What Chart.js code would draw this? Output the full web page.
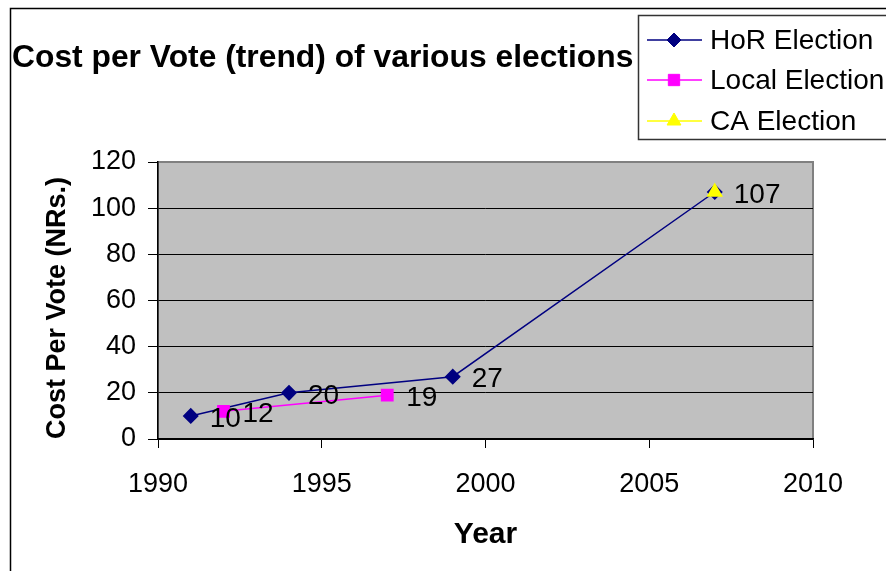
<!DOCTYPE html>
<html>
<head>
<meta charset="utf-8">
<script src="https://cdn.jsdelivr.net/npm/chart.js@4.4.1/dist/chart.umd.min.js"></script>
<style>
  html, body { margin: 0; padding: 0; background: #fff; }
  #wrap { width: 886px; height: 571px; position: relative; }
</style>
</head>
<body>
<div id="wrap"><canvas id="cpv_chart"></canvas></div>
<script>
// data
const seriesNames = ['HoR Election', 'Local Election', 'CA Election'];
const horYears = [1991, 1994, 1999, 2007];
const horCost = [10, 20, 27, 107];
const localYears = [1992, 1997];
const localCost = [12, 19];
const caYears = [2007];
const caCost = [107];
const yTicks = [0, 20, 40, 60, 80, 100, 120];
const xTicks = [1990, 1995, 2000, 2005, 2010];

const toPoints = (xs, ys) => xs.map((x, i) => ({ x: x, y: ys[i] }));
const FONT = "'Liberation Sans', Arial, sans-serif";

// grey plot area + frame
const plotBg = {
    id: 'plotBg',
    beforeDraw(chart) {
        const { ctx, chartArea: a } = chart;
        ctx.save();
        ctx.fillStyle = '#fff';
        ctx.fillRect(0, 0, chart.width, chart.height);
        ctx.fillStyle = '#C0C0C0';
        ctx.fillRect(a.left, a.top, a.right - a.left, a.bottom - a.top);
        ctx.strokeStyle = '#808080';
        ctx.lineWidth = 2;
        ctx.strokeRect(a.left, a.top, a.right - a.left, a.bottom - a.top);
        // outer chart border (cut off on right/bottom)
        ctx.strokeStyle = '#000';
        ctx.lineWidth = 1.5;
        ctx.beginPath();
        ctx.moveTo(10.5, chart.height + 2);
        ctx.lineTo(10.5, 8.5);
        ctx.lineTo(chart.width + 2, 8.5);
        ctx.stroke();
        ctx.restore();
    }
};

// value labels to the right of each point + title + legend
const overlay = {
    id: 'overlay',
    afterDatasetsDraw(chart) {
        const ctx = chart.ctx;
        ctx.save();
        ctx.fillStyle = '#000';
        ctx.font = '28px ' + FONT;
        ctx.textAlign = 'left';
        ctx.textBaseline = 'middle';
        chart.data.datasets.forEach((ds, di) => {
            if (di === 2) return; // CA label sits on top of HoR's 107
            chart.getDatasetMeta(di).data.forEach((pt, i) => {
                ctx.fillText(String(ds.data[i].y), pt.x + 19, pt.y + 3);
            });
        });
        ctx.restore();
    },
    afterDraw(chart) {
        const ctx = chart.ctx;
        ctx.save();
        // title
        ctx.fillStyle = '#000';
        ctx.font = 'bold 31.8px ' + FONT;
        ctx.textBaseline = 'middle';
        ctx.textAlign = 'left';
        ctx.fillText('Cost per Vote (trend) of various elections', 12, 58);

        // legend box
        ctx.fillStyle = '#fff';
        ctx.fillRect(638, 15, 260, 124);
        ctx.strokeStyle = '#333';
        ctx.lineWidth = 1.5;
        ctx.strokeRect(638.5, 15.5, 260, 124);
        const rows = [40, 80, 121];
        chart.data.datasets.forEach((ds, di) => {
            const y = rows[di];
            ctx.strokeStyle = ds.borderColor;
            ctx.lineWidth = 1.5;
            ctx.beginPath();
            ctx.moveTo(647, y);
            ctx.lineTo(702, y);
            ctx.stroke();
            ctx.fillStyle = ds.pointBackgroundColor;
            ctx.strokeStyle = ds.pointBorderColor;
            ctx.lineWidth = 1;
            Chart.helpers.drawPoint(ctx, {
                pointStyle: ds.pointStyle,
                radius: ds.pointRadius,
                borderWidth: 1
            }, 674, y);
            ctx.fillStyle = '#000';
            ctx.font = '28px ' + FONT;
            ctx.fillText(seriesNames[di], 710, y + 1);
        });
        ctx.restore();
    }
};

const ctx = document.getElementById('cpv_chart').getContext('2d');

const cpv_chart = new Chart(ctx, {
    type: 'line',
    data: {
        datasets: [{
            label: seriesNames[0],
            data: toPoints(horYears, horCost),
            order: 2,
            borderColor: '#000080',
            backgroundColor: '#000080',
            borderWidth: 1.5,
            pointStyle: 'rectRot',
            pointRadius: 7,
            pointBorderColor: '#000080',
            pointBackgroundColor: '#000080'
        }, {
            label: seriesNames[1],
            data: toPoints(localYears, localCost),
            order: 1,
            borderColor: '#FF00FF',
            backgroundColor: '#FF00FF',
            borderWidth: 1.5,
            pointStyle: 'rect',
            pointRadius: 8,
            pointBorderColor: '#FF00FF',
            pointBackgroundColor: '#FF00FF'
        }, {
            label: seriesNames[2],
            data: toPoints(caYears, caCost),
            order: 0,
            borderColor: '#FFFF00',
            backgroundColor: '#FFFF00',
            borderWidth: 1.5,
            pointStyle: 'triangle',
            pointRadius: 8,
            pointBorderColor: '#FFFF00',
            pointBackgroundColor: '#FFFF00'
        }]
    },
    options: {
        responsive: true,
        maintainAspectRatio: false,
        animation: false,
        layout: { padding: { left: 0, top: 162, right: 73, bottom: 0 } },
        plugins: {
            legend: { display: false },
            title: { display: false },
            tooltip: { enabled: false }
        },
        scales: {
            x: {
                type: 'linear',
                min: 1990,
                max: 2010,
                afterFit: (scale) => { scale.height = 132; },
                afterBuildTicks: (scale) => { scale.ticks = xTicks.map(v => ({ value: v })); },
                grid: {
                    drawOnChartArea: false,
                    drawTicks: true,
                    tickLength: 9,
                    color: '#000',
                    tickColor: '#000'
                },
                border: { color: '#000', width: 1.5 },
                ticks: {
                    color: '#000',
                    padding: 20,
                    font: { family: FONT, size: 27 },
                    callback: (v) => String(v)
                },
                title: {
                    display: true,
                    text: 'Year',
                    color: '#000',
                    font: { family: FONT, size: 30, weight: 'bold' },
                    padding: { top: 0, bottom: 18 }
                }
            },
            y: {
                min: 0,
                max: 120,
                afterFit: (scale) => { scale.width = 158; },
                afterBuildTicks: (scale) => { scale.ticks = yTicks.map(v => ({ value: v })); },
                grid: {
                    color: (c) => c.tick && c.tick.value === 120 ? '#808080' : '#000',
                    tickColor: '#000',
                    tickLength: 10,
                    lineWidth: 1
                },
                border: { color: '#000', width: 1.5 },
                ticks: {
                    color: '#000',
                    padding: 12,
                    font: { family: FONT, size: 27 }
                },
                title: {
                    display: true,
                    text: 'Cost Per Vote (NRs.)',
                    align: 'start',
                    color: '#000',
                    font: { family: FONT, size: 27, weight: 'bold' },
                    padding: { top: 41, bottom: 0 }
                }
            }
        }
    },
    plugins: [plotBg, overlay]
});
</script>
</body>
</html>
